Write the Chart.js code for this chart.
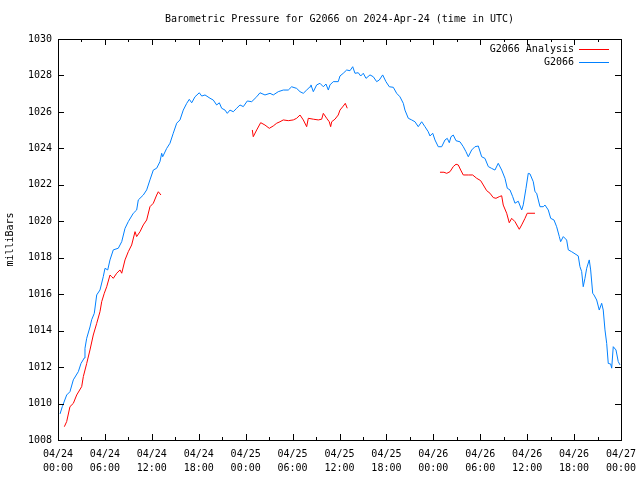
<!DOCTYPE html>
<html>
<head>
<meta charset="utf-8">
<script src="https://cdn.jsdelivr.net/npm/chart.js@4/dist/chart.umd.min.js"></script>
<style>
  body { margin: 0; background: #fff; }
  #wrap { width: 640px; height: 480px; }
</style>
</head>
<body>
<div id="wrap"><canvas id="pressureChart" width="640" height="480"></canvas></div>
<script>
// hours since 04/24 00:00 UTC, pressure in mb
const blueHours = [
  0.26, 0.55, 1.11, 1.53, 1.96, 2.60, 2.94, 3.36, 3.45, 3.67, 4.09, 4.31, 4.64, 4.95, 5.37, 5.79,
  6.01, 6.36, 6.65, 7.07, 7.71, 8.15, 8.57, 8.99, 9.63, 10.06, 10.27, 10.91, 11.34, 11.76, 12.19, 12.62,
  13.04, 13.26, 13.39, 13.90, 14.32, 14.74, 15.18, 15.60, 16.02, 16.46, 16.79, 17.10, 17.52, 18.07, 18.38, 18.80,
  19.44, 19.86, 20.29, 20.63, 20.93, 21.36, 21.65, 21.99, 22.42, 22.85, 23.27, 23.70, 24.21, 24.77, 25.41, 25.83,
  26.47, 27.11, 27.53, 28.17, 28.81, 29.45, 29.88, 30.52, 30.95, 31.37, 31.80, 32.23, 32.35, 32.65, 33.08, 33.50,
  33.93, 34.27, 34.57, 34.78, 35.20, 35.84, 36.06, 36.48, 36.92, 37.34, 37.69, 37.98, 38.40, 38.71, 39.04, 39.39,
  39.90, 40.32, 40.75, 41.09, 41.52, 41.94, 42.37, 42.88, 43.31, 43.73, 44.16, 44.37, 44.80, 45.23, 45.65, 46.07,
  46.51, 46.93, 47.35, 47.57, 47.92, 48.21, 48.63, 49.07, 49.49, 49.78, 50.04, 50.26, 50.55, 50.90, 51.41, 51.83,
  52.17, 52.47, 52.90, 53.32, 53.75, 54.18, 54.60, 55.03, 55.46, 55.88, 56.30, 56.74, 57.16, 57.46, 57.80, 58.15,
  58.44, 58.86, 59.30, 59.50, 59.85, 60.14, 60.36, 60.78, 61.00, 61.21, 61.64, 62.06, 62.28, 62.70, 63.01, 63.43,
  63.77, 64.11, 64.28, 64.62, 65.05, 65.26, 65.69, 66.53, 66.75, 66.97, 67.17, 67.39, 67.61, 67.94, 68.12, 68.38,
  68.54, 68.89, 69.22, 69.53, 69.73, 69.95, 70.17, 70.37, 70.68, 70.81, 71.01, 71.36, 71.65, 71.87
];
const bluePressure = [
  1009.43, 1009.83, 1010.47, 1010.65, 1011.30, 1011.75, 1012.20, 1012.50, 1013.03, 1013.58, 1014.20, 1014.60, 1014.95, 1015.96, 1016.23, 1016.96,
  1017.42, 1017.33, 1017.88, 1018.43, 1018.52, 1018.88, 1019.61, 1019.98, 1020.44, 1020.62, 1021.17, 1021.44, 1021.72, 1022.27, 1022.81, 1022.91,
  1023.27, 1023.73, 1023.54, 1024.00, 1024.28, 1024.83, 1025.38, 1025.56, 1026.10, 1026.47, 1026.69, 1026.50, 1026.83, 1027.05, 1026.87, 1026.93,
  1026.75, 1026.65, 1026.38, 1026.50, 1026.20, 1026.10, 1025.92, 1026.10, 1026.01, 1026.20, 1026.38, 1026.29, 1026.60, 1026.56, 1026.83, 1027.05,
  1026.93, 1027.02, 1026.93, 1027.11, 1027.20, 1027.20, 1027.38, 1027.29, 1027.11, 1027.02, 1027.20, 1027.38, 1027.48, 1027.11, 1027.48, 1027.57,
  1027.38, 1027.53, 1027.20, 1027.48, 1027.66, 1027.66, 1027.97, 1028.12, 1028.30, 1028.26, 1028.48, 1028.12, 1028.15, 1027.97, 1028.12, 1027.84,
  1028.03, 1027.93, 1027.66, 1027.75, 1028.03, 1027.66, 1027.38, 1027.35, 1027.02, 1026.83, 1026.47, 1026.10, 1025.65, 1025.56, 1025.46, 1025.19,
  1025.46, 1025.19, 1024.91, 1024.68, 1024.83, 1024.46, 1024.09, 1024.09, 1024.46, 1024.55, 1024.31, 1024.64, 1024.73, 1024.42, 1024.36, 1024.09,
  1023.82, 1023.54, 1023.91, 1024.09, 1024.13, 1023.54, 1023.45, 1023.00, 1022.90, 1022.81, 1023.18, 1022.81, 1022.36, 1021.81, 1021.72, 1021.35,
  1020.99, 1021.10, 1020.62, 1020.90, 1021.81, 1022.63, 1022.60, 1022.17, 1021.62, 1021.54, 1020.80, 1020.80, 1020.89, 1020.62, 1020.16, 1020.07,
  1019.70, 1019.16, 1018.88, 1019.16, 1018.97, 1018.43, 1018.33, 1018.10, 1017.51, 1017.24, 1016.41, 1016.87, 1017.42, 1017.88, 1017.33, 1016.05,
  1015.96, 1015.68, 1015.13, 1015.50, 1015.13, 1014.04, 1013.30, 1012.20, 1012.17, 1011.94, 1013.12, 1012.94, 1012.30, 1012.12
];

// analysis series, null marks a break between the three segments
const redHours = [
  0.81, 1.11, 1.53, 1.96, 2.39, 3.03, 3.24, 3.67, 4.09, 4.51, 4.95, 5.37, 5.59, 5.92, 6.23, 6.65,
  6.87, 7.07, 7.51, 7.93, 8.15, 8.57, 8.99, 9.42, 9.85, 10.06, 10.49, 10.91, 11.34, 11.76, 12.19, 12.62,
  12.83, 13.17,
  18.0,
  24.85, 24.97, 25.41, 25.92, 26.47, 27.02, 27.53, 27.97, 28.39, 28.81, 29.45, 30.09, 30.52, 30.95, 31.37, 31.80,
  32.01, 32.65, 33.29, 33.72, 33.93, 34.36, 34.69, 34.87, 35.00, 35.42, 35.84, 36.06, 36.48, 36.74, 36.99,
  42.0,
  48.85, 49.36, 49.71, 50.13, 50.55, 50.90, 51.19, 51.50, 51.83, 52.47, 53.03, 53.54, 54.05, 54.39, 54.82, 55.24,
  55.66, 56.01, 56.43, 56.74, 56.94, 57.38, 57.71, 58.02, 58.44, 58.99, 59.30, 59.72, 60.01, 61.00
];
const redPressure = [
  1008.73, 1009.01, 1009.83, 1010.01, 1010.47, 1010.93, 1011.48, 1012.20, 1012.94, 1013.76, 1014.40, 1015.04, 1015.59, 1016.05, 1016.41, 1017.05,
  1016.96, 1016.87, 1017.15, 1017.33, 1017.15, 1017.88, 1018.33, 1018.70, 1019.43, 1019.16, 1019.43, 1019.80, 1020.07, 1020.80, 1020.99, 1021.44,
  1021.62, 1021.44,
  null,
  1025.01, 1024.64, 1025.01, 1025.41, 1025.28, 1025.10, 1025.23, 1025.38, 1025.46, 1025.56, 1025.52, 1025.56, 1025.65, 1025.83, 1025.56, 1025.19,
  1025.65, 1025.60, 1025.56, 1025.60, 1025.92, 1025.65, 1025.46, 1025.19, 1025.46, 1025.60, 1025.83, 1026.10, 1026.32, 1026.47, 1026.20,
  null,
  1022.69, 1022.69, 1022.63, 1022.72, 1023.00, 1023.13, 1023.09, 1022.81, 1022.54, 1022.54, 1022.54, 1022.36, 1022.23, 1021.99, 1021.68, 1021.54,
  1021.30, 1021.26, 1021.35, 1021.40, 1020.89, 1020.44, 1019.92, 1020.16, 1019.98, 1019.56, 1019.80, 1020.16, 1020.44, 1020.44
];

const xTickDates = ['04/24', '04/24', '04/24', '04/24', '04/25', '04/25', '04/25', '04/25', '04/26', '04/26', '04/26', '04/26', '04/27'];
const xTickTimes = ['00:00', '06:00', '12:00', '18:00', '00:00', '06:00', '12:00', '18:00', '00:00', '06:00', '12:00', '18:00', '00:00'];

const seriesNames = ['G2066 Analysis', 'G2066'];
const seriesColors = ['#ff0000', '#0080ff'];
const chartTitle = 'Barometric Pressure for G2066 on 2024-Apr-24 (time in UTC)';

const FONT = '10px "DejaVu Sans Mono", "Liberation Mono", monospace';

function toPoints(xs, ys) {
    return xs.map((x, i) => ({ x: x, y: ys[i] }));
}

// frame, inward ticks, title and legend in gnuplot style
const gnuplotDecor = {
    id: 'gnuplotDecor',
    afterDraw(chart) {
        const ctx = chart.ctx;
        const a = chart.chartArea;
        const xs = chart.scales.x;
        const ys = chart.scales.y;
        ctx.save();
        ctx.strokeStyle = '#000';
        ctx.lineWidth = 1;
        ctx.beginPath();
        for (let h = 0; h <= 72; h += 3) {
            const px = Math.round(xs.getPixelForValue(h)) + 0.5;
            const len = h % 6 === 0 ? 6 : 3;
            ctx.moveTo(px, a.bottom); ctx.lineTo(px, a.bottom - len);
            ctx.moveTo(px, a.top); ctx.lineTo(px, a.top + len);
        }
        for (let v = 1008; v <= 1030; v += 2) {
            const py = Math.round(ys.getPixelForValue(v)) + 0.5;
            ctx.moveTo(a.left, py); ctx.lineTo(a.left + 6, py);
            ctx.moveTo(a.right, py); ctx.lineTo(a.right - 6, py);
        }
        ctx.stroke();
        ctx.strokeRect(Math.round(a.left) + 0.5, Math.round(a.top) + 0.5,
            Math.round(a.right - a.left), Math.round(a.bottom - a.top));

        ctx.fillStyle = '#000';
        ctx.font = FONT;
        ctx.textBaseline = 'middle';
        ctx.textAlign = 'center';
        ctx.fillText(chartTitle, (a.left + a.right) / 2, 19);

        ctx.textAlign = 'right';
        seriesNames.forEach((name, i) => {
            const y = 49 + i * 13;
            ctx.fillStyle = '#000';
            ctx.fillText(name, a.right - 47, y);
            ctx.strokeStyle = seriesColors[i];
            ctx.beginPath();
            ctx.moveTo(a.right - 42, y + 0.5);
            ctx.lineTo(a.right - 12, y + 0.5);
            ctx.stroke();
        });
        ctx.restore();
    }
};

const ctx = document.getElementById('pressureChart').getContext('2d');
new Chart(ctx, {
    type: 'line',
    data: {
        datasets: [{
            label: seriesNames[0],
            data: toPoints(redHours, redPressure),
            borderColor: seriesColors[0],
            borderWidth: 1,
            pointRadius: 0,
            tension: 0,
            spanGaps: false
        }, {
            label: seriesNames[1],
            data: toPoints(blueHours, bluePressure),
            borderColor: seriesColors[1],
            borderWidth: 1,
            pointRadius: 0,
            tension: 0
        }]
    },
    options: {
        responsive: false,
        animation: false,
        devicePixelRatio: 1,
        layout: { padding: { left: 0, right: 19, top: 39, bottom: 0 } },
        plugins: {
            legend: { display: false },
            title: { display: false },
            tooltip: { enabled: false }
        },
        scales: {
            x: {
                type: 'linear',
                min: 0,
                max: 72,
                grid: { display: false, drawTicks: false },
                border: { display: false },
                afterFit: function (scale) {
                    scale.height = 40;
                    scale.paddingLeft = 0;
                    scale.paddingRight = 0;
                },
                ticks: {
                    stepSize: 6,
                    autoSkip: false,
                    maxRotation: 0,
                    padding: 7,
                    color: '#000',
                    font: { family: '"DejaVu Sans Mono", monospace', size: 10, lineHeight: 1.4 },
                    callback: function (value) {
                        const i = Math.round(value / 6);
                        return [xTickDates[i], xTickTimes[i]];
                    }
                }
            },
            y: {
                min: 1008,
                max: 1030,
                grid: { display: false, drawTicks: false },
                border: { display: false },
                afterFit: function (scale) {
                    scale.width = 58;
                    scale.paddingTop = 0;
                    scale.paddingBottom = 0;
                },
                title: {
                    display: true,
                    text: 'milliBars',
                    color: '#000',
                    padding: 4,
                    font: { family: '"DejaVu Sans Mono", monospace', size: 10 }
                },
                ticks: {
                    stepSize: 2,
                    padding: 6,
                    color: '#000',
                    font: { family: '"DejaVu Sans Mono", monospace', size: 10 },
                    callback: function (value) { return value; }
                }
            }
        }
    },
    plugins: [gnuplotDecor]
});
</script>
</body>
</html>
